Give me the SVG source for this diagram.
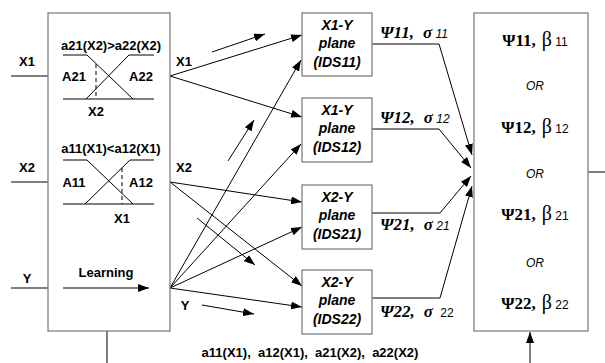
<svg xmlns="http://www.w3.org/2000/svg" width="605" height="363" viewBox="0 0 605 363">
<defs>
<marker id="ah" markerUnits="userSpaceOnUse" markerWidth="11" markerHeight="8" refX="11" refY="4" orient="auto">
<path d="M0,0 L11,4 L0,8 z" fill="#000"/>
</marker>
<style>
.box{fill:#fff;stroke:#808080;stroke-width:1.3}
.ln{stroke:#000;stroke-width:1;fill:none}
.ar{stroke:#000;stroke-width:1;fill:none;marker-end:url(#ah)}
.dash{stroke:#000;stroke-width:1;stroke-dasharray:4,3;fill:none}
.b{font-family:"Liberation Sans",Arial,sans-serif;font-weight:bold;font-size:13px;fill:#000}
.bi{font-family:"Liberation Sans",Arial,sans-serif;font-weight:bold;font-style:italic;font-size:14px;fill:#000}
.or{font-family:"Liberation Sans",Arial,sans-serif;font-style:italic;font-size:12px;fill:#000}
.ps{font-family:"Liberation Serif","Times New Roman",serif;font-weight:bold;font-size:17px}
.psi{font-family:"Liberation Serif","Times New Roman",serif;font-weight:bold;font-style:italic;font-size:17px}
.bt{font-family:"Liberation Serif","Times New Roman",serif;font-size:20px}
.sm{font-family:"Liberation Sans",Arial,sans-serif;font-size:12px}
.smi{font-family:"Liberation Sans",Arial,sans-serif;font-style:italic;font-size:12px}
</style>
</defs>
<g id="connectors">
<line class="ln" x1="11" y1="76" x2="48" y2="76"/>
<line class="ln" x1="11" y1="182" x2="48" y2="182"/>
<line class="ln" x1="11" y1="288" x2="48" y2="288"/>
<line class="ln" x1="107" y1="331" x2="107" y2="363"/>
<line class="ar" x1="530" y1="363" x2="530" y2="332"/>
<line class="ln" x1="588" y1="172" x2="605" y2="172"/>
<line class="ar" x1="170" y1="76" x2="302" y2="35"/>
<line class="ar" x1="170" y1="76" x2="302" y2="117"/>
<line class="ar" x1="170" y1="182" x2="302" y2="202"/>
<line class="ar" x1="170" y1="182" x2="302" y2="286"/>
<line class="ar" x1="170" y1="288" x2="301" y2="60"/>
<line class="ar" x1="170" y1="288" x2="301" y2="144"/>
<line class="ar" x1="170" y1="288" x2="302" y2="227"/>
<line class="ar" x1="170" y1="288" x2="302" y2="307"/>
<line class="ar" x1="212" y1="52" x2="265" y2="34"/>
<line class="ar" x1="228" y1="161" x2="254" y2="120"/>
<line class="ar" x1="197" y1="218" x2="255" y2="265"/>
<line class="ar" x1="202" y1="305" x2="254" y2="314"/>
<polyline class="ar" points="372,44 439,44 472,155"/>
<polyline class="ar" points="372,129 439,129 471,168"/>
<polyline class="ar" points="372,213 440,213 471,176"/>
<polyline class="ar" points="372,298 440,298 472,186"/>
</g>
<g id="input-labels">
<text class="b" x="27" y="66" text-anchor="middle">X1</text>
<text class="b" x="27" y="172" text-anchor="middle">X2</text>
<text class="b" x="27" y="283" text-anchor="middle">Y</text>
<text class="b" x="184" y="66" text-anchor="middle">X1</text>
<text class="b" x="184" y="172" text-anchor="middle">X2</text>
<text class="b" x="185" y="310" text-anchor="middle">Y</text>
<text class="b" x="310" y="357" text-anchor="middle" style="white-space:pre">a11(X1),  a12(X1),  a21(X2),  a22(X2)</text>
</g>
<g id="learning-box">
<rect class="box" x="48" y="13" width="122" height="318"/>
<text class="b" x="111" y="50" text-anchor="middle">a21(X2)&gt;a22(X2)</text>
<polyline class="ln" points="63,55 87,55 133,99"/>
<polyline class="ln" points="154,55 129,55 86,99"/>
<line class="ln" x1="63" y1="99" x2="154" y2="99"/>
<line class="dash" x1="96" y1="64" x2="96" y2="99"/>
<text class="b" x="74" y="81" text-anchor="middle">A21</text>
<text class="b" x="141" y="81" text-anchor="middle">A22</text>
<text class="b" x="96" y="116" text-anchor="middle">X2</text>
<text class="b" x="111" y="153" text-anchor="middle">a11(X1)&lt;a12(X1)</text>
<polyline class="ln" points="63,160 87,160 133,204"/>
<polyline class="ln" points="154,160 130,160 85,204"/>
<line class="ln" x1="63" y1="204" x2="154" y2="204"/>
<line class="dash" x1="122" y1="168" x2="122" y2="204"/>
<text class="b" x="74" y="187" text-anchor="middle">A11</text>
<text class="b" x="141" y="187" text-anchor="middle">A12</text>
<text class="b" x="122" y="223" text-anchor="middle">X1</text>
<text class="b" x="106" y="277" text-anchor="middle" font-size="12">Learning</text>
<line class="ar" x1="63" y1="288" x2="149" y2="288"/>
</g>
<g id="ids11">
<rect class="box" x="302" y="13" width="70" height="63"/>
<text class="bi" x="337" y="30" text-anchor="middle">X1-Y</text>
<text class="bi" x="337" y="48" text-anchor="middle">plane</text>
<text class="bi" x="337" y="67" text-anchor="middle">(IDS11)</text>
<text x="380" y="38"><tspan class="psi">Ψ11,</tspan><tspan class="psi" dx="9" font-size="15">σ</tspan><tspan class="smi"> 11</tspan></text>
</g>
<g id="ids12">
<rect class="box" x="302" y="98" width="70" height="64"/>
<text class="bi" x="337" y="115" text-anchor="middle">X1-Y</text>
<text class="bi" x="337" y="133" text-anchor="middle">plane</text>
<text class="bi" x="337" y="152" text-anchor="middle">(IDS12)</text>
<text x="380" y="123"><tspan class="psi">Ψ12,</tspan><tspan class="psi" dx="9" font-size="15">σ</tspan><tspan class="smi"> 12</tspan></text>
</g>
<g id="ids21">
<rect class="box" x="302" y="185" width="70" height="64"/>
<text class="bi" x="337" y="202" text-anchor="middle">X2-Y</text>
<text class="bi" x="337" y="220" text-anchor="middle">plane</text>
<text class="bi" x="337" y="239" text-anchor="middle">(IDS21)</text>
<text x="380" y="230"><tspan class="psi">Ψ21,</tspan><tspan class="psi" dx="9" font-size="15">σ</tspan><tspan class="smi"> 21</tspan></text>
</g>
<g id="ids22">
<rect class="box" x="302" y="270" width="70" height="64"/>
<text class="bi" x="337" y="287" text-anchor="middle">X2-Y</text>
<text class="bi" x="337" y="305" text-anchor="middle">plane</text>
<text class="bi" x="337" y="324" text-anchor="middle">(IDS22)</text>
<text x="380" y="317"><tspan class="psi">Ψ22,</tspan><tspan class="psi" dx="9" font-size="15">σ</tspan><tspan class="sm" dx="4"> 22</tspan></text>
</g>
<g id="output-box">
<rect class="box" x="474" y="13" width="114" height="318"/>
<text x="535" y="46" text-anchor="middle"><tspan class="ps">Ψ11,</tspan><tspan class="bt" dx="6">β</tspan><tspan class="sm"> 11</tspan></text>
<text class="or" x="535" y="90" text-anchor="middle">OR</text>
<text x="535" y="133" text-anchor="middle"><tspan class="ps">Ψ12,</tspan><tspan class="bt" dx="6">β</tspan><tspan class="sm"> 12</tspan></text>
<text class="or" x="535" y="178" text-anchor="middle">OR</text>
<text x="535" y="220" text-anchor="middle"><tspan class="ps">Ψ21,</tspan><tspan class="bt" dx="6">β</tspan><tspan class="sm"> 21</tspan></text>
<text class="or" x="535" y="267" text-anchor="middle">OR</text>
<text x="535" y="309" text-anchor="middle"><tspan class="ps">Ψ22,</tspan><tspan class="bt" dx="6">β</tspan><tspan class="sm"> 22</tspan></text>
</g>
</svg>
